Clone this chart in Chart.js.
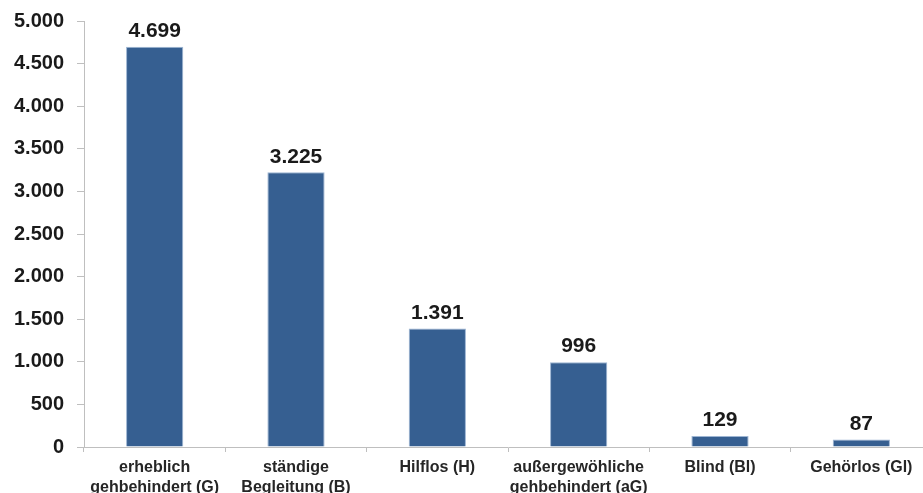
<!DOCTYPE html>
<html>
<head>
<meta charset="utf-8">
<script src="https://cdn.jsdelivr.net/npm/chart.js@4/dist/chart.umd.min.js"></script>
<style>
  html, body { margin: 0; padding: 0; background: #fff; overflow: hidden; }
  #wrap { width: 940px; height: 493px; }
</style>
</head>
<body>
<div id="wrap"><canvas id="myChart" width="940" height="493"></canvas></div>
<script>
var categories = [
    ['erheblich', 'gehbehindert (G)'],
    ['ständige', 'Begleitung (B)'],
    ['Hilflos (H)'],
    ['außergewöhliche', 'gehbehindert (aG)'],
    ['Blind (Bl)'],
    ['Gehörlos (Gl)']
];
var values = [4699, 3225, 1391, 996, 129, 87];
var yTicks = [0, 500, 1000, 1500, 2000, 2500, 3000, 3500, 4000, 4500, 5000];

function fmt(n) {
    return String(n).replace(/\B(?=(\d{3})+(?!\d))/g, '.');
}

var valueLabels = {
    id: 'valueLabels',
    afterDatasetsDraw: function (chart) {
        var ctx = chart.ctx;
        var meta = chart.getDatasetMeta(0);
        ctx.save();
        ctx.font = 'bold 21px "Liberation Sans", Arial, sans-serif';
        ctx.fillStyle = '#1a1a1a';
        ctx.textAlign = 'center';
        ctx.textBaseline = 'bottom';
        meta.data.forEach(function (bar, i) {
            ctx.fillText(fmt(values[i]), bar.x, bar.y - 5);
        });
        ctx.restore();
    }
};

var ctx = document.getElementById('myChart');
var myChart = new Chart(ctx, {
    type: 'bar',
    data: {
        labels: categories,
        datasets: [{
            label: '',
            data: values,
            backgroundColor: '#365f91',
            borderColor: '#9db5d3',
            borderWidth: 1,
            categoryPercentage: 1,
            barPercentage: 0.405
        }]
    },
    options: {
        responsive: false,
        animation: false,
        layout: { padding: { top: 21, right: 8, left: 0, bottom: 0 } },
        plugins: {
            legend: { display: false },
            tooltip: { enabled: false }
        },
        scales: {
            y: {
                min: 0,
                max: 5000,
                afterFit: function (s) {
                    s.width = 84;
                    s.paddingTop = 0;
                    s.paddingBottom = 0;
                },
                afterBuildTicks: function (s) {
                    s.ticks = yTicks.map(function (v) { return { value: v }; });
                },
                border: { color: '#bfbfbf', width: 1 },
                grid: { drawOnChartArea: false, tickLength: 7, color: '#bfbfbf' },
                ticks: {
                    padding: 13,
                    color: '#1a1a1a',
                    font: { family: '"Liberation Sans", Arial, sans-serif', size: 20, weight: 'bold' },
                    callback: function (v) { return fmt(v); }
                }
            },
            x: {
                afterFit: function (s) { s.height = 46; },
                border: { color: '#bfbfbf', width: 1 },
                grid: { drawOnChartArea: false, tickLength: 5, color: '#bfbfbf', offset: true },
                ticks: {
                    padding: 6,
                    maxRotation: 0,
                    autoSkip: false,
                    color: '#262626',
                    font: { family: '"Liberation Sans", Arial, sans-serif', size: 16, weight: 'bold', lineHeight: 1.25 }
                }
            }
        }
    },
    plugins: [valueLabels]
});
</script>
</body>
</html>
